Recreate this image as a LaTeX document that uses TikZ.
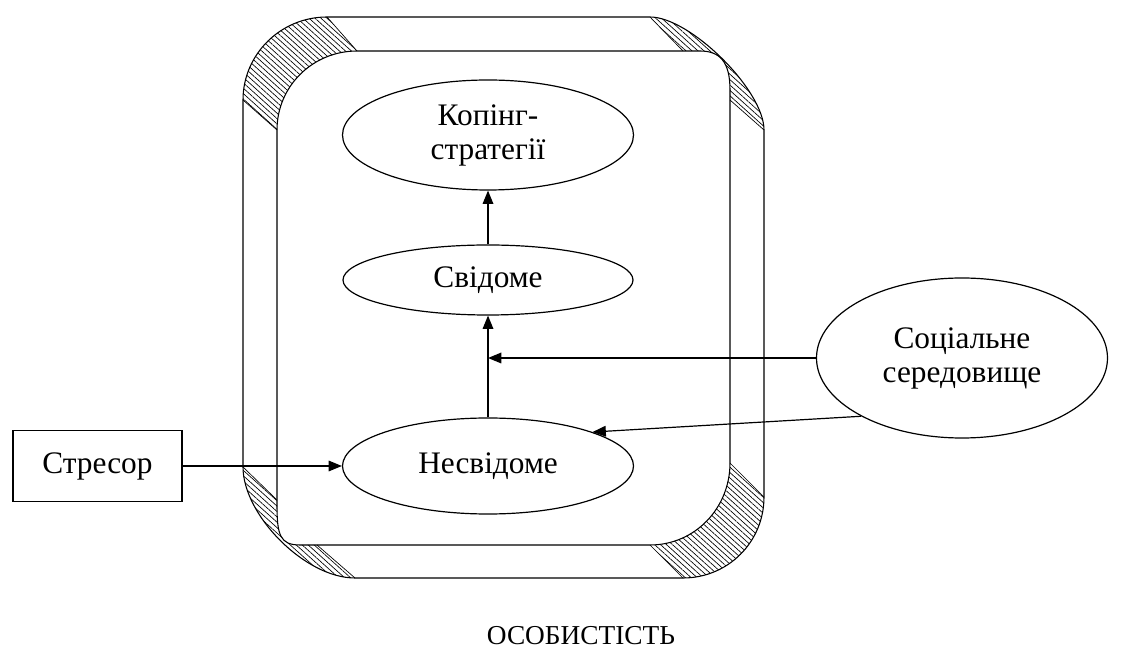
\documentclass[tikz,border=0pt]{standalone}
\usepackage{fontspec}
\setmainfont{Liberation Serif}
\usetikzlibrary{shapes.geometric,arrows.meta,patterns.meta}
\begin{document}
\begin{tikzpicture}[x=0.75pt,y=-0.75pt,
  every node/.style={font=\fontsize{23.5}{25.5}\selectfont},
  oval/.style={ellipse,draw,line width=0.9pt,inner sep=0pt,align=center},
  frame/.style={draw,line width=0.8pt},
  hatch/.style={pattern={Lines[angle=-42,distance=3pt,line width=0.5pt]}},
  hatchedge/.style={line width=0.5pt},
  conn/.style={line width=0.9pt,-{Triangle[length=10pt,width=8pt]}}]
\useasboundingbox (0,0) rectangle (1125,655);
% hatched corners
\fill[hatch] (243,100) .. controls (243,54) and (281,17) .. (327,17) -- (357,51) .. controls (313,51) and (277,86) .. (277,130) -- cycle;
\fill[hatch] (764,497) .. controls (764,542) and (728,578) .. (683,578) -- (650,545) .. controls (695,545) and (730,508) .. (730,463) -- cycle;
\fill[hatch] (650,17) .. controls (690,17) and (764,90) .. (764,130) -- (730,100) -- (730,90) .. controls (730,62) and (720,51) .. (700,51) -- (683,51) -- cycle;
\fill[hatch] (243,467) -- (277,500) -- (277,505) .. controls (277,535) and (280,545) .. (300,545) -- (317,545) -- (355,578) .. controls (305,578) and (243,515) .. (243,467) -- cycle;
\draw[hatchedge] (327,17) -- (357,51) (243,100) -- (277,130)
  (764,497) -- (730,463) (683,578) -- (650,545)
  (650,17) -- (683,51) (764,130) -- (730,100)
  (243,467) -- (277,500) (355,578) -- (317,545);
% outer frame
\draw[frame] (327,17) -- (650,17) .. controls (690,17) and (764,90) .. (764,130) -- (764,497) .. controls (764,542) and (728,578) .. (683,578) -- (355,578) .. controls (305,578) and (243,515) .. (243,467) -- (243,100) .. controls (243,54) and (281,17) .. (327,17) -- cycle;
% inner frame
\draw[frame] (357,51) -- (700,51) .. controls (720,51) and (730,62) .. (730,90) -- (730,463) .. controls (730,508) and (695,545) .. (650,545) -- (300,545) .. controls (280,545) and (277,535) .. (277,505) -- (277,130) .. controls (277,86) and (313,51) .. (357,51) -- cycle;
% nodes
\node[oval,minimum width=218.25pt,minimum height=82.5pt] (kop) at (488,135) {Копінг-\\стратегії};
\node[oval,minimum width=217.5pt,minimum height=52.5pt] (svi) at (488,280) {Свідоме};
\node[oval,minimum width=218.25pt,minimum height=72pt] (nes) at (488,466) {Несвідоме};
\node[oval,minimum width=218.25pt,minimum height=120pt] (soc) at (962,358) {Соціальне\\середовище};
\node[draw,line width=0.9pt,minimum width=126.75pt,minimum height=53.25pt,inner sep=0pt] (str) at (97.5,466) {Стресор};
\node[font=\fontsize{20.5}{22}\selectfont] (lbl) at (581,636) {ОСОБИСТІСТЬ};
\coordinate (j) at (488,358);
% connectors
\draw[conn] (nes.north) -- (svi.south);
\draw[conn] (svi.north) -- (kop.south);
\draw[conn] (soc.west) -- (j);
\draw[conn] (soc.210) -- (nes.18);
\draw[conn] (str.east) -- (nes.west);
\end{tikzpicture}
\end{document}
